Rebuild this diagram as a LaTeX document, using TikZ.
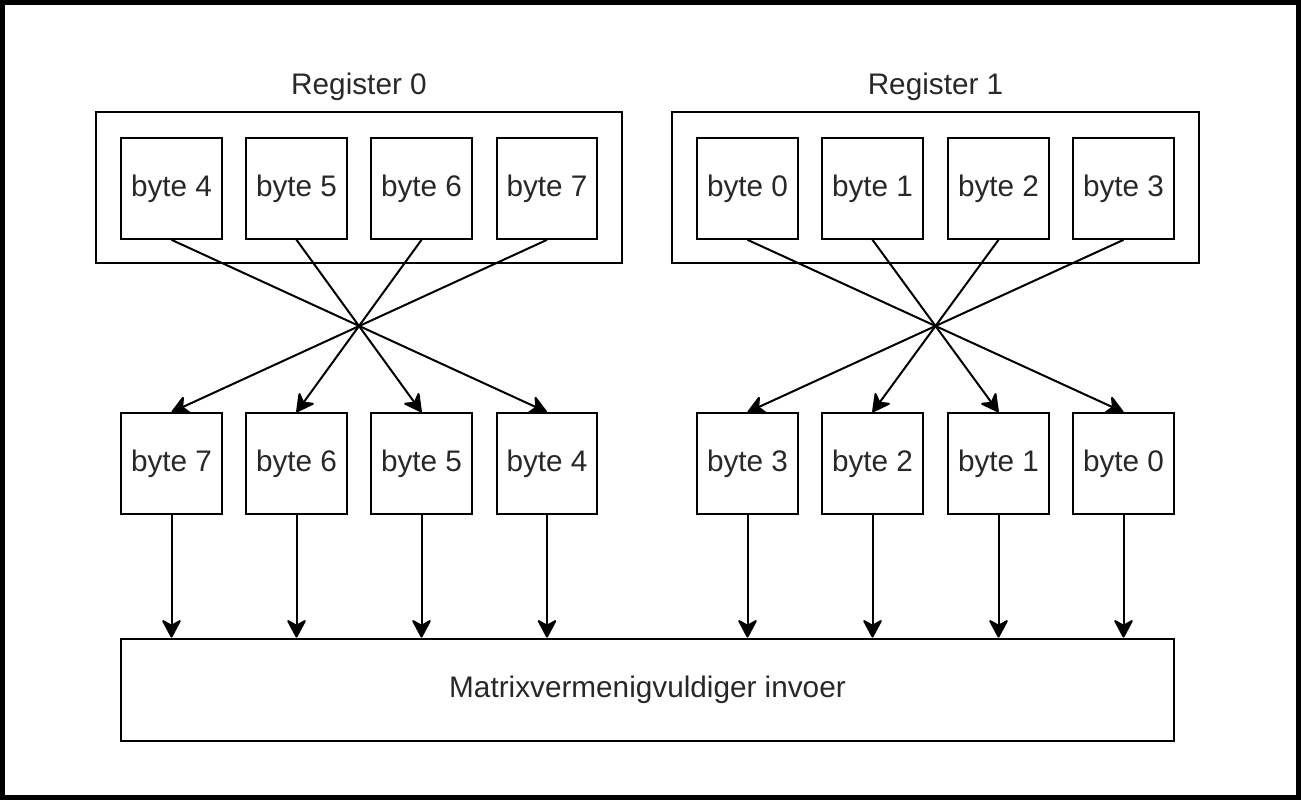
\documentclass[tikz,border=0pt]{standalone}
\usepackage{fontspec}
\setmainfont{Liberation Sans}
\usetikzlibrary{arrows.meta}
\definecolor{txt}{RGB}{40,40,40}
\tikzset{
  px/.style={x=0.75pt,y=-0.75pt},
  bytebox/.style={draw,line width=1.5pt,minimum width=75.5pt,minimum height=75.5pt,inner sep=0pt,
    font=\fontsize{22.3pt}{26pt}\selectfont,text=txt},
  regbox/.style={draw,line width=1.5pt,inner sep=0pt},
  lbl/.style={font=\fontsize{22.3pt}{26pt}\selectfont,text=txt,inner sep=0pt},
  conn/.style={line width=1.5pt,-{Stealth[length=15pt,width=16pt,inset=4.5pt,round]}},
}
\begin{document}
\begin{tikzpicture}[px]
\useasboundingbox (0,0) rectangle (1301,800);
\draw[line width=3.75pt] (2.5,2.5) rectangle (1298.5,797.5);
% register boxes
\node[regbox,minimum width=394.5pt,minimum height=113.3pt] (r0) at (359,187.5) {};
\node[regbox,minimum width=395.3pt,minimum height=113.3pt] (r1) at (935.5,187.5) {};
\node[lbl] (l0) at (359,87) {Register 0};
\node[lbl] (l1) at (935.5,87) {Register 1};
% top bytes
\node[bytebox] (t4) at (171.5,188.5) {byte 4};
\node[bytebox] (t5) at (296.5,188.5) {byte 5};
\node[bytebox] (t6) at (421.5,188.5) {byte 6};
\node[bytebox] (t7) at (547,188.5) {byte 7};
\node[bytebox] (t0) at (747.5,188.5) {byte 0};
\node[bytebox] (t1) at (872.5,188.5) {byte 1};
\node[bytebox] (t2) at (998.5,188.5) {byte 2};
\node[bytebox] (t3) at (1123.5,188.5) {byte 3};
% bottom bytes
\node[bytebox] (b7) at (171.5,463.5) {byte 7};
\node[bytebox] (b6) at (296.5,463.5) {byte 6};
\node[bytebox] (b5) at (421.5,463.5) {byte 5};
\node[bytebox] (b4) at (547,463.5) {byte 4};
\node[bytebox] (b3) at (747.5,463.5) {byte 3};
\node[bytebox] (b2) at (872.5,463.5) {byte 2};
\node[bytebox] (b1) at (998.5,463.5) {byte 1};
\node[bytebox] (b0) at (1123.5,463.5) {byte 0};
% matrix
\node[bytebox,minimum width=789.8pt,minimum height=76.5pt] (m) at (647.5,689.5) {Matrixvermenigvuldiger invoer};
% crossing connectors
\foreach \a/\b in {t4/b4,t5/b5,t6/b6,t7/b7,t0/b0,t1/b1,t2/b2,t3/b3}{
  \draw[conn] (\a.south) -- (\b.north);
}
% down connectors
\foreach \b in {b7,b6,b5,b4,b3,b2,b1,b0}{
  \draw[conn] (\b.south) -- (\b.south |- m.north);
}
\end{tikzpicture}
\end{document}
